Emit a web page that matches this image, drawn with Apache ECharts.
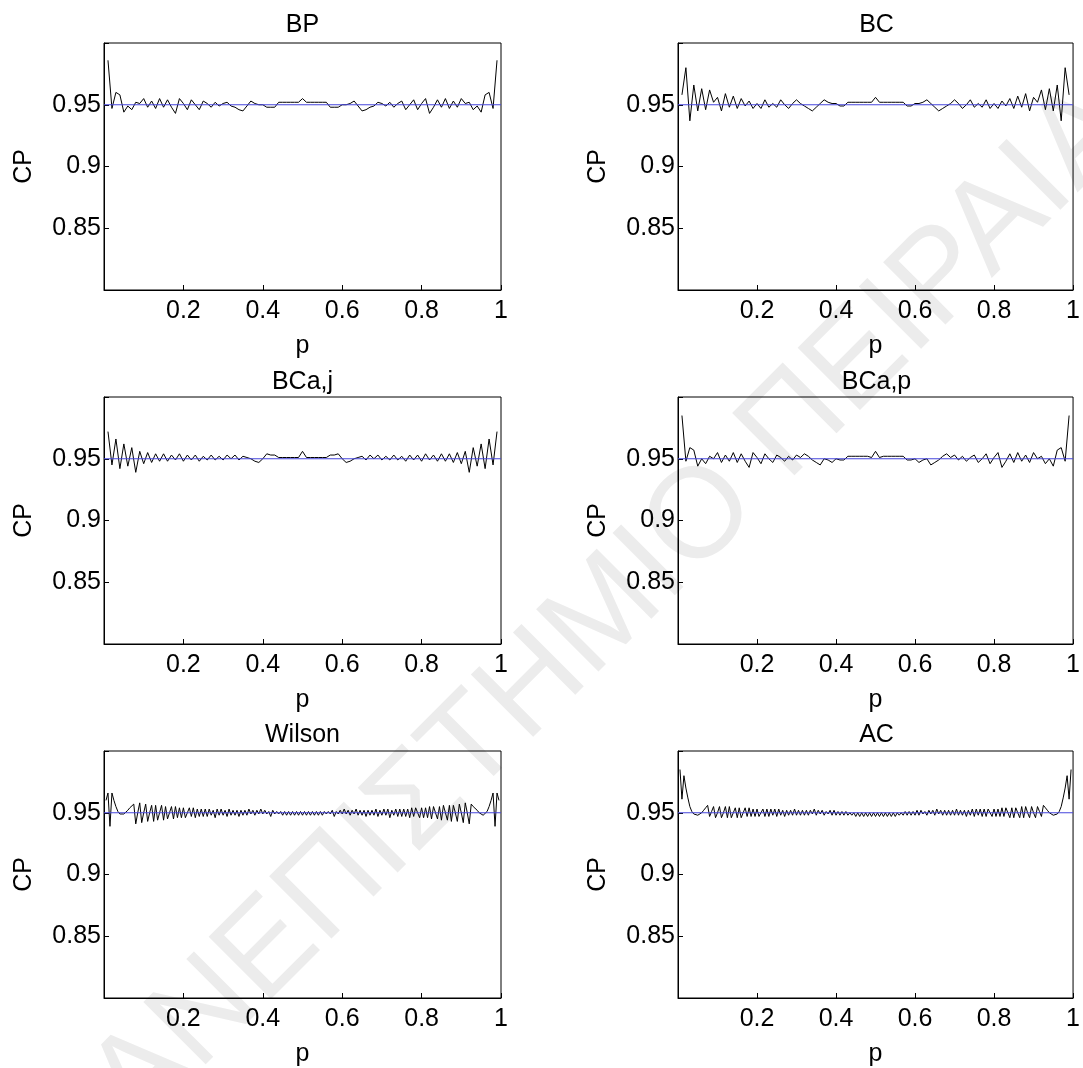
<!DOCTYPE html>
<html>
<head>
<meta charset="utf-8">
<script src="https://cdn.jsdelivr.net/npm/echarts@6/dist/echarts.min.js"></script>
<style>
  html, body { margin: 0; padding: 0; background: #fff; }
  #chart { width: 1083px; height: 1068px; }
</style>
</head>
<body>
<div id="chart"></div>
<script>
// p grid of the bootstrap intervals (step 0.01)
const pCoarse = [
  0.01,0.02,0.03,0.04,0.05,0.06,0.07,0.08,0.09,0.10,
  0.11,0.12,0.13,0.14,0.15,0.16,0.17,0.18,0.19,0.20,
  0.21,0.22,0.23,0.24,0.25,0.26,0.27,0.28,0.29,0.30,
  0.31,0.32,0.33,0.34,0.35,0.36,0.37,0.38,0.39,0.40,
  0.41,0.42,0.43,0.44,0.45,0.46,0.47,0.48,0.49,0.50,
  0.51,0.52,0.53,0.54,0.55,0.56,0.57,0.58,0.59,0.60,
  0.61,0.62,0.63,0.64,0.65,0.66,0.67,0.68,0.69,0.70,
  0.71,0.72,0.73,0.74,0.75,0.76,0.77,0.78,0.79,0.80,
  0.81,0.82,0.83,0.84,0.85,0.86,0.87,0.88,0.89,0.90,
  0.91,0.92,0.93,0.94,0.95,0.96,0.97,0.98,0.99
]

// p grid of Wilson / AC (step 0.005)
const pFine = [
  0.005,0.010,0.015,0.020,0.025,0.030,0.035,0.040,0.045,0.050,
  0.055,0.060,0.065,0.070,0.075,0.080,0.085,0.090,0.095,0.100,
  0.105,0.110,0.115,0.120,0.125,0.130,0.135,0.140,0.145,0.150,
  0.155,0.160,0.165,0.170,0.175,0.180,0.185,0.190,0.195,0.200,
  0.205,0.210,0.215,0.220,0.225,0.230,0.235,0.240,0.245,0.250,
  0.255,0.260,0.265,0.270,0.275,0.280,0.285,0.290,0.295,0.300,
  0.305,0.310,0.315,0.320,0.325,0.330,0.335,0.340,0.345,0.350,
  0.355,0.360,0.365,0.370,0.375,0.380,0.385,0.390,0.395,0.400,
  0.405,0.410,0.415,0.420,0.425,0.430,0.435,0.440,0.445,0.450,
  0.455,0.460,0.465,0.470,0.475,0.480,0.485,0.490,0.495,0.500,
  0.505,0.510,0.515,0.520,0.525,0.530,0.535,0.540,0.545,0.550,
  0.555,0.560,0.565,0.570,0.575,0.580,0.585,0.590,0.595,0.600,
  0.605,0.610,0.615,0.620,0.625,0.630,0.635,0.640,0.645,0.650,
  0.655,0.660,0.665,0.670,0.675,0.680,0.685,0.690,0.695,0.700,
  0.705,0.710,0.715,0.720,0.725,0.730,0.735,0.740,0.745,0.750,
  0.755,0.760,0.765,0.770,0.775,0.780,0.785,0.790,0.795,0.800,
  0.805,0.810,0.815,0.820,0.825,0.830,0.835,0.840,0.845,0.850,
  0.855,0.860,0.865,0.870,0.875,0.880,0.885,0.890,0.895,0.900,
  0.905,0.910,0.915,0.920,0.925,0.930,0.935,0.940,0.945,0.950,
  0.955,0.960,0.965,0.970,0.975,0.980,0.985,0.990,0.995
]

const cpBP = [
  0.986,0.947,0.960,0.958,0.944,0.949,0.946,0.952,0.951,0.955,
  0.948,0.953,0.947,0.955,0.948,0.954,0.948,0.943,0.955,0.951,
  0.946,0.954,0.950,0.946,0.953,0.951,0.948,0.952,0.949,0.951,
  0.952,0.949,0.948,0.946,0.945,0.949,0.953,0.951,0.950,0.950,
  0.948,0.948,0.948,0.952,0.952,0.952,0.952,0.952,0.952,0.955,
  0.952,0.952,0.952,0.952,0.952,0.952,0.948,0.948,0.948,0.950,
  0.950,0.951,0.953,0.949,0.945,0.946,0.948,0.949,0.952,0.951,
  0.949,0.952,0.948,0.951,0.953,0.946,0.950,0.954,0.946,0.951,
  0.955,0.943,0.948,0.954,0.948,0.955,0.947,0.953,0.948,0.955,
  0.951,0.952,0.946,0.949,0.944,0.958,0.960,0.947,0.986
]

const cpBC = [
  0.958,0.980,0.937,0.966,0.945,0.963,0.946,0.962,0.952,0.956,
  0.945,0.959,0.948,0.957,0.947,0.955,0.949,0.953,0.947,0.951,
  0.947,0.954,0.948,0.951,0.948,0.954,0.950,0.947,0.951,0.954,
  0.951,0.949,0.947,0.945,0.948,0.951,0.954,0.952,0.951,0.951,
  0.949,0.949,0.952,0.952,0.952,0.952,0.952,0.952,0.952,0.956,
  0.952,0.952,0.952,0.952,0.952,0.952,0.952,0.949,0.949,
  0.951,0.951,0.952,0.954,0.951,0.948,0.945,0.947,0.949,0.951,
  0.954,0.951,0.947,0.950,0.954,0.948,0.951,0.948,0.954,0.947,
  0.951,0.947,0.953,0.949,0.955,0.947,0.957,0.948,0.959,0.945,
  0.956,0.952,0.962,0.946,0.963,0.945,0.966,0.937,0.980,0.958
]

const cpBCaJ = [
  0.972,0.945,0.966,0.942,0.962,0.944,0.959,0.939,0.956,0.946,
  0.955,0.947,0.954,0.948,0.954,0.948,0.953,0.949,0.954,0.948,
  0.953,0.949,0.953,0.948,0.952,0.949,0.953,0.949,0.952,0.949,
  0.953,0.950,0.953,0.949,0.952,0.951,0.950,0.948,0.947,0.950,
  0.954,0.953,0.953,0.951,0.951,0.951,0.951,0.951,0.951,0.956,
  0.951,0.951,0.951,0.951,0.951,0.951,0.953,0.953,0.954,
  0.950,0.947,0.948,0.950,0.951,0.952,0.949,0.953,0.950,0.953,
  0.949,0.952,0.949,0.953,0.949,0.952,0.948,0.953,0.949,0.953,
  0.948,0.954,0.949,0.953,0.948,0.954,0.948,0.954,0.947,0.955,
  0.946,0.956,0.939,0.959,0.944,0.962,0.942,0.966,0.945,0.972
]

const cpBCaP = [
  0.985,0.948,0.959,0.957,0.944,0.950,0.946,0.952,0.950,0.955,
  0.947,0.953,0.948,0.955,0.947,0.954,0.948,0.943,0.955,0.951,
  0.946,0.954,0.950,0.947,0.953,0.951,0.948,0.952,0.949,0.953,
  0.951,0.954,0.952,0.949,0.947,0.945,0.950,0.949,0.947,0.950,
  0.949,0.949,0.952,0.952,0.952,0.952,0.952,0.952,0.951,0.956,
  0.951,0.952,0.952,0.952,0.952,0.952,0.952,0.949,0.949,
  0.950,0.947,0.949,0.950,0.945,0.947,0.949,0.952,0.954,0.951,
  0.953,0.949,0.952,0.948,0.951,0.953,0.947,0.950,0.954,0.946,
  0.951,0.955,0.943,0.948,0.954,0.947,0.955,0.948,0.953,0.947,
  0.955,0.950,0.952,0.946,0.950,0.944,0.957,0.959,0.948,0.985
]

const cpWilson = [
  0.960,0.966,0.939,0.966,0.960,0.955,0.951,0.949,0.948,0.949,
  0.950,0.952,0.954,0.955,0.957,0.941,0.950,0.958,0.942,0.950,
  0.957,0.943,0.950,0.956,0.943,0.956,0.944,0.950,0.956,0.944,
  0.955,0.945,0.950,0.955,0.945,0.955,0.946,0.954,0.946,0.954,
  0.946,0.950,0.954,0.947,0.954,0.946,0.953,0.947,0.953,0.947,
  0.953,0.947,0.953,0.948,0.952,0.946,0.953,0.948,0.953,0.948,
  0.952,0.947,0.953,0.948,0.952,0.948,0.952,0.947,0.952,0.948,
  0.952,0.948,0.953,0.949,0.952,0.948,0.952,0.949,0.953,0.949,
  0.952,0.949,0.951,0.947,0.952,0.949,0.951,0.949,0.951,0.948,
  0.951,0.948,0.951,0.948,0.951,0.948,0.951,0.948,0.951,0.948,
  0.951,0.948,0.951,0.948,0.951,0.948,0.951,0.948,0.951,
  0.948,0.951,0.949,0.951,0.949,0.952,0.947,0.951,0.949,0.952,
  0.949,0.953,0.949,0.952,0.948,0.952,0.949,0.953,0.948,0.952,
  0.948,0.952,0.947,0.952,0.948,0.952,0.948,0.953,0.947,0.952,
  0.948,0.953,0.948,0.953,0.946,0.952,0.948,0.953,0.947,0.953,
  0.947,0.953,0.947,0.953,0.946,0.954,0.947,0.954,0.950,0.946,
  0.954,0.946,0.954,0.946,0.955,0.945,0.955,0.950,0.945,0.955,
  0.944,0.956,0.950,0.944,0.956,0.943,0.956,0.950,0.943,0.957,
  0.950,0.942,0.958,0.950,0.941,0.957,0.955,0.954,0.952,0.950,
  0.949,0.948,0.949,0.951,0.955,0.960,0.966,0.939,0.966,0.960
]

const cpAC = [
  0.985,0.961,0.980,0.970,0.962,0.955,0.951,0.949,0.948,0.948,
  0.949,0.950,0.952,0.954,0.956,0.947,0.951,0.955,0.946,0.950,
  0.955,0.946,0.950,0.955,0.946,0.955,0.946,0.950,0.954,0.946,
  0.954,0.946,0.950,0.954,0.947,0.954,0.947,0.953,0.947,0.953,
  0.947,0.950,0.953,0.947,0.953,0.947,0.953,0.948,0.953,0.947,
  0.953,0.948,0.952,0.947,0.952,0.948,0.952,0.948,0.953,0.948,
  0.952,0.948,0.952,0.948,0.952,0.948,0.952,0.949,0.953,0.948,
  0.952,0.949,0.952,0.948,0.951,0.949,0.952,0.948,0.952,0.948,
  0.951,0.948,0.951,0.948,0.951,0.948,0.950,0.948,0.950,0.947,
  0.950,0.947,0.950,0.947,0.950,0.947,0.950,0.947,0.950,0.947,
  0.950,0.947,0.950,0.947,0.950,0.947,0.950,0.947,0.950,
  0.947,0.950,0.948,0.950,0.948,0.951,0.948,0.951,0.948,0.951,
  0.948,0.952,0.948,0.952,0.949,0.951,0.948,0.952,0.949,0.952,
  0.948,0.953,0.949,0.952,0.948,0.952,0.948,0.952,0.948,0.952,
  0.948,0.953,0.948,0.952,0.948,0.952,0.947,0.952,0.948,0.953,
  0.947,0.953,0.948,0.953,0.947,0.953,0.947,0.953,0.950,0.947,
  0.953,0.947,0.953,0.947,0.954,0.947,0.954,0.950,0.946,0.954,
  0.946,0.954,0.950,0.946,0.955,0.946,0.955,0.950,0.946,0.955,
  0.950,0.946,0.955,0.951,0.947,0.956,0.954,0.952,0.950,0.949,
  0.948,0.948,0.949,0.951,0.955,0.962,0.970,0.980,0.961,0.985
]

const panelTitles = ['BP', 'BC', 'BCa,j', 'BCa,p', 'Wilson', 'AC']
const panelP = [pCoarse, pCoarse, pCoarse, pCoarse, pFine, pFine]
const panelCP = [cpBP, cpBC, cpBCaJ, cpBCaP, cpWilson, cpAC]
const nominalLevel = 0.95
const pRange = [0, 1]
const yTickLabels = [0.85, 0.9, 0.95]
const xTickLabels = [0.2, 0.4, 0.6, 0.8, 1]

// layout (px)
const colLeft = [104, 678]
const rowTop = [43, 397, 751]
const titleMid = [25, 382, 735]
const plotW = 397
const plotH = 247
const FONT = '"Liberation Sans", Arial, Helvetica, sans-serif'
const FS = 25

const chart = echarts.init(document.getElementById('chart'))

const grids = []
const xAxes = []
const yAxes = []
const series = []
const graphics = []

// watermark
graphics.push({
  type: 'text',
  x: 580,
  y: 640,
  rotation: Math.PI / 4,
  z: -10,
  silent: true,
  style: {
    text: 'ΠΑΝΕΠΙΣΤΗΜΙΟ ΠΕΙΡΑΙΑ',
    font: '128px "Liberation Sans", Arial, sans-serif',
    fill: '#ececec',
    align: 'center',
    verticalAlign: 'middle'
  }
})

panelTitles.forEach((title, i) => {
  const col = i % 2
  const row = Math.floor(i / 2)
  const left = colLeft[col]
  const top = rowTop[row]

  grids.push({
    left: left, top: top, width: plotW, height: plotH,
    show: true, borderColor: '#000', borderWidth: 1,
    backgroundColor: 'transparent'
  })

  xAxes.push({
    type: 'value', gridIndex: i, min: 0, max: 1, interval: 0.2,
    name: 'p', nameLocation: 'middle', nameGap: 44,
    nameTextStyle: { fontFamily: FONT, fontSize: FS, color: '#000' },
    axisLine: { show: true, lineStyle: { color: '#000', width: 1 } },
    axisTick: { show: true, inside: true, length: 5, lineStyle: { color: '#000' } },
    splitLine: { show: false },
    axisLabel: {
      fontFamily: FONT, fontSize: FS, color: '#000', margin: 9,
      showMinLabel: true, showMaxLabel: true,
      formatter: v => {
        const r = +v.toFixed(1)
        return xTickLabels.includes(r) ? String(r) : ''
      }
    }
  })

  yAxes.push({
    type: 'value', gridIndex: i, min: 0.8, max: 1.0, interval: 0.05,
    name: 'CP', nameLocation: 'middle', nameGap: 67, nameRotate: 90,
    nameTextStyle: { fontFamily: FONT, fontSize: FS, color: '#000' },
    axisLine: { show: true, lineStyle: { color: '#000', width: 1 } },
    axisTick: { show: true, inside: true, length: 5, lineStyle: { color: '#000' } },
    splitLine: { show: false },
    axisLabel: {
      fontFamily: FONT, fontSize: FS, color: '#000', margin: 3,
      formatter: v => {
        const r = +v.toFixed(2)
        return yTickLabels.includes(r) ? String(r) : ''
      }
    }
  })

  // coverage probability curve
  series.push({
    type: 'line',
    xAxisIndex: i, yAxisIndex: i,
    z: 2,
    data: panelP[i].map((p, k) => [p, panelCP[i][k]]),
    showSymbol: false, symbol: 'none',
    lineStyle: { color: '#000', width: 1 },
    animation: false
  })

  // nominal level, drawn across the whole p range
  series.push({
    type: 'line',
    xAxisIndex: i, yAxisIndex: i,
    z: 3,
    data: pRange.map(p => [p, nominalLevel]),
    showSymbol: false, symbol: 'none',
    lineStyle: { color: '#4646dc', width: 1.2 },
    animation: false
  })

  graphics.push({
    type: 'text',
    x: left + plotW / 2,
    y: titleMid[row],
    style: {
      text: title,
      font: FS + 'px ' + FONT,
      fill: '#000',
      align: 'center',
      verticalAlign: 'middle'
    }
  })
})

chart.setOption({
  animation: false,
  backgroundColor: '#fff',
  grid: grids,
  xAxis: xAxes,
  yAxis: yAxes,
  series: series,
  graphic: graphics
})
</script>
</body>
</html>
